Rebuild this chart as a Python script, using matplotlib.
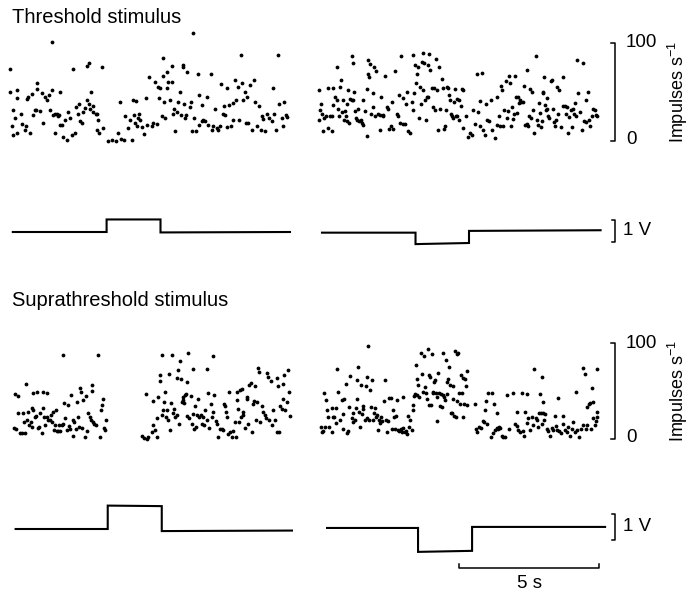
import matplotlib
matplotlib.use("Agg")
import matplotlib.pyplot as plt
from matplotlib import transforms

plt.rcParams['font.family'] = ['Liberation Sans', 'DejaVu Sans']
plt.rcParams['mathtext.fontset'] = 'custom'
plt.rcParams['mathtext.rm'] = 'Liberation Sans'
plt.rcParams['mathtext.it'] = 'Liberation Sans:italic'

# ---------------- data (time in s from sweep start, rate in impulses/s) -------------
# Threshold stimulus, left sweep (positive pulse)
thr_left_t = [0.0, 0.0, 0.26, 0.1, 0.18, 0.06, 0.12, 0.24, 0.24, 0.38, 0.42, 0.57, 0.6, 0.65, 0.54, 0.77, 0.83, 0.9, 0.73, 0.95, 0.98, 0.93,
              1.07, 1.13, 1.19, 1.25, 1.31, 1.4, 1.43, 1.51, 1.49, 1.55, 1.6, 1.67, 1.76, 1.79, 1.73, 1.6, 1.79, 1.85, 1.9, 1.96,
              2.02, 2.08, 2.14, 2.24, 2.2, 2.32, 2.36, 2.44, 2.48, 2.5, 2.56, 2.62, 2.68, 2.74, 2.83, 2.75, 2.83, 2.88, 2.86, 2.95, 2.98,
              3.07, 3.12, 3.15, 3.1, 3.19, 3.27, 3.33, 3.49, 3.79, 3.65, 3.87, 3.93, 3.95,
              4.07, 4.1, 4.23, 4.29, 4.35, 4.38, 4.43, 4.5, 4.46, 4.52, 4.58, 4.62, 4.64, 4.7, 4.79, 4.86, 4.88, 4.98, 5.06, 5.12,
              5.19, 5.24, 5.3, 5.33, 5.36, 5.42, 5.45, 5.46, 5.5, 5.55, 5.6, 5.61, 5.65, 5.71, 5.77, 5.77, 5.83, 5.86, 5.89, 5.95, 6.01,
              6.07, 6.1, 6.17, 6.19, 6.21, 6.25, 6.3, 6.33, 6.43, 6.46, 6.49, 6.55, 6.57, 6.64, 6.71, 6.76, 6.76, 6.85, 6.85, 6.9, 6.96, 7.02,
              7.08, 7.17, 7.2, 7.26, 7.32, 7.38, 7.44, 7.5, 7.54, 7.6, 7.64, 7.68, 7.74, 7.74, 7.83, 7.88, 7.95, 7.98, 8.04, 8.07,
              8.14, 8.17, 8.24, 8.27, 8.31, 8.39, 8.43, 8.48, 8.51, 8.57, 8.63, 8.71, 8.75, 8.83, 8.9, 8.95, 8.99,
              9.05, 9.12, 9.17, 9.26, 9.35, 9.38, 9.43, 9.5, 9.57, 9.62, 9.7, 9.76, 9.79, 9.86, 9.9]
thr_left_r = [73, 50, 52, 32, 23, 15, 6, 8, 44, 28, 17, 15, 43, 45, 11, 48, 27, 32, 8, 59, 53, 32,
              31, 49, 18, 45, 42, 47, 32, 101, 52, 27, 28, 28, 27, 50, 26, 8, 16, 16, 4, 21,
              1, 30, 23, 73, 6, 8, 35, 28, 38, 20, 18, 30, 34, 77, 80, 42, 38, 50, 33, 30, 36,
              28, 28, 21, 11, 8, 75, 13, 0, 0, 1, 8, 40, 2,
              1, 25, 13, 21, 1, 42, 27, 41, 18, 15, 23, 28, 21, 14, 7, 44, 16, 65, 15, 18,
              60, 17, 55, 44, 54, 25, 66, 85, 40, 23, 54, 70, 60, 42, 77, 60, 28, 33, 10, 30, 40,
              50, 27, 76, 78, 38, 23, 27, 70, 35, 40, 10, 110, 23, 10, 68, 47, 16, 37, 20, 21, 20, 45,
              16, 68, 11, 15, 33, 13, 11, 15, 58, 28, 36, 27, 54, 14, 37, 15, 39, 21, 62, 42,
              55, 21, 88, 59, 42, 50, 18, 45, 18, 57, 11, 62, 40, 15, 36, 11, 25,
              22, 10, 28, 23, 20, 54, 28, 11, 88, 38, 23, 15, 40, 27, 24]

# Threshold stimulus, right sweep (negative pulse)
thr_right_t = [0.15, 0.18, 0.2, 0.24, 0.15, 0.27, 0.32, 0.39, 0.48, 0.48, 0.54, 0.6, 0.61, 0.65, 0.65, 0.71, 0.77, 0.8, 0.83, 0.87, 0.89, 0.92, 0.95,
               1.01, 1.05, 1.07, 1.11, 1.13, 1.15, 1.19, 1.23, 1.25, 1.31, 1.33, 1.37, 1.37, 1.39, 1.43, 1.46, 1.51, 1.55, 1.58, 1.63, 1.67, 1.7, 1.73, 1.79, 1.85, 1.87, 1.88, 1.9, 1.94, 1.96, 1.99,
               2.06, 2.08, 2.11, 2.14, 2.18, 2.26, 2.32, 2.33, 2.35, 2.42, 2.44, 2.5, 2.56, 2.62, 2.65, 2.7, 2.75, 2.8, 2.86, 2.92, 2.96,
               3.01, 3.06, 3.04, 3.13, 3.15, 3.21, 3.25, 3.29, 3.33, 3.39, 3.45, 3.49, 3.51, 3.54, 3.57, 3.61, 3.63, 3.69, 3.73, 3.75, 3.79, 3.82, 3.85, 3.87, 3.9, 3.93, 3.96, 3.99,
               4.02, 4.06, 4.05, 4.12, 4.17, 4.23, 4.25, 4.29, 4.32, 4.37, 4.4, 4.44, 4.46, 4.52, 4.58, 4.61, 4.64, 4.68, 4.7, 4.76, 4.8, 4.82, 4.85, 4.88, 4.92, 4.96, 5.0,
               5.04, 5.06, 5.08, 5.13, 5.15, 5.2, 5.24, 5.27, 5.3, 5.39, 5.48, 5.54, 5.6, 5.65, 5.71, 5.77, 5.83, 5.89, 5.89, 5.95, 5.99,
               6.07, 6.11, 6.15, 6.23, 6.27, 6.31, 6.43, 6.49, 6.51, 6.58, 6.6, 6.64, 6.68, 6.73, 6.75, 6.82, 6.85, 6.9, 6.94, 6.96, 6.99,
               7.02, 7.08, 7.11, 7.14, 7.18, 7.2, 7.26, 7.3, 7.33, 7.37, 7.42, 7.46, 7.5, 7.56, 7.57, 7.62, 7.65, 7.68, 7.7, 7.74, 7.8, 7.83, 7.89, 7.92, 7.98,
               8.01, 8.04, 8.06, 8.1, 8.13, 8.15, 8.18, 8.21, 8.25, 8.27, 8.3, 8.33, 8.37, 8.42, 8.45, 8.49, 8.54, 8.57, 8.61, 8.65, 8.69, 8.73, 8.77, 8.85, 8.87, 8.93, 8.96, 8.99,
               9.05, 9.08, 9.13, 9.17, 9.2, 9.25, 9.29, 9.32, 9.36, 9.4, 9.46, 9.52, 9.56, 9.61, 9.68, 9.68, 9.74, 9.77, 9.82, 9.88, 9.94, 10.0, 10.04, 10.08]
thr_right_r = [52, 32, 38, 28, 21, 10, 23, 25, 54, 13, 26, 10, 26, 54, 37, 45, 76, 42, 33, 25, 55, 62, 30,
               42, 21, 31, 25, 38, 20, 52, 18, 43, 42, 87, 80, 42, 50, 31, 23, 21, 33, 20, 21, 18, 42, 16, 31, 5, 53, 68, 83, 65, 79, 28,
               35, 49, 75, 25, 71, 28, 11, 27, 45, 27, 26, 66, 35, 33, 12, 15, 40, 12, 71, 28, 25,
               47, 87, 18, 17, 44, 17, 38, 50, 10, 8, 40, 32, 88, 49, 78, 59, 68, 76, 23, 55, 38, 81, 90, 52, 80, 42, 21, 45,
               45, 89, 78, 72, 54, 35, 54, 32, 84, 52, 11, 75, 33, 63, 54, 12, 15, 32, 55, 54, 47, 42, 28, 26, 23, 40, 53,
               25, 25, 43, 21, 42, 36, 53, 13, 52, 26, 4, 8, 6, 32, 17, 68, 30, 41, 15, 69, 11,
               6, 38, 21, 20, 42, 11, 3, 16, 45, 25, 15, 56, 52, 15, 32, 61, 23, 31, 66, 59, 15,
               35, 22, 28, 66, 45, 29, 45, 39, 42, 40, 40, 56, 16, 72, 17, 15, 26, 53, 23, 50, 32, 8, 87, 21, 16,
               39, 29, 14, 20, 50, 49, 65, 37, 32, 33, 44, 26, 23, 61, 62, 33, 19, 15, 21, 55, 28, 52, 14, 65, 36, 36, 28, 35,
               8, 24, 32, 14, 33, 28, 39, 26, 83, 49, 30, 11, 80, 20, 42, 19, 50, 21, 15, 25, 33, 32, 27, 26]

# Suprathreshold stimulus, left sweep (positive pulse)
sup_left_t = [0.14, 0.18, 0.21, 0.3, 0.3, 0.36, 0.42, 0.48, 0.5, 0.54, 0.57, 0.6, 0.65, 0.69, 0.74, 0.77, 0.77, 0.83, 0.83, 0.89, 0.93, 0.98,
              1.01, 1.05, 1.07, 1.13, 1.17, 1.19, 1.21, 1.25, 1.31, 1.33, 1.37, 1.43, 1.45, 1.49, 1.55, 1.57, 1.61, 1.64, 1.67, 1.73, 1.75, 1.79, 1.85, 1.88, 1.9, 1.93, 1.96,
              2.02, 2.08, 2.12, 2.14, 2.17, 2.24, 2.26, 2.29, 2.36, 2.4, 2.44, 2.48, 2.5, 2.52, 2.56, 2.62, 2.68, 2.71, 2.76, 2.8, 2.86, 2.88, 2.92, 2.92, 2.95, 3.0,
              3.07, 3.13, 3.21, 3.24, 3.27, 3.31, 3.36, 3.39, 3.43,
              4.7, 4.79, 4.88, 4.86, 4.94, 5.06, 5.1, 5.12, 5.18, 5.24, 5.26, 5.3, 5.36, 5.36, 5.42, 5.44, 5.48, 5.5, 5.54, 5.57, 5.6, 5.63, 5.69, 5.71, 5.74, 5.77, 5.81, 5.86, 5.89, 5.95, 5.98,
              6.01, 6.05, 6.07, 6.1, 6.13, 6.17, 6.19, 6.21, 6.25, 6.29, 6.31, 6.33, 6.37, 6.4, 6.45, 6.49, 6.52, 6.55, 6.57, 6.61, 6.64, 6.67, 6.73, 6.76, 6.81, 6.85, 6.88, 6.93, 6.96,
              7.02, 7.05, 7.08, 7.12, 7.17, 7.2, 7.24, 7.26, 7.3, 7.36, 7.4, 7.44, 7.5, 7.56, 7.6, 7.64, 7.68, 7.71, 7.74, 7.8, 7.83, 7.86, 7.92, 7.98,
              8.04, 8.07, 8.1, 8.12, 8.15, 8.19, 8.21, 8.24, 8.27, 8.31, 8.33, 8.39, 8.45, 8.48, 8.51, 8.55, 8.6, 8.63, 8.67, 8.71, 8.75, 8.79, 8.81, 8.87, 8.9, 8.93, 8.99,
              9.05, 9.1, 9.14, 9.17, 9.23, 9.26, 9.31, 9.35, 9.4, 9.46, 9.52, 9.55, 9.58, 9.62, 9.64, 9.7, 9.74, 9.76, 9.79, 9.82, 9.88, 9.94, 9.98, 10.0]
sup_left_r = [11, 47, 10, 27, 45, 6, 6, 27, 18, 6, 57, 20, 28, 15, 18, 32, 13, 48, 30, 23, 24, 49,
              11, 12, 27, 6, 49, 32, 23, 15, 23, 48, 20, 20, 25, 18, 28, 9, 15, 30, 8, 8, 15, 8, 15, 87, 16, 38, 22,
              9, 35, 14, 10, 46, 3, 20, 18, 10, 39, 23, 13, 53, 49, 11, 41, 2, 45, 8, 27, 23, 20, 56, 50, 18, 16,
              15, 88, 2, 30, 35, 42, 11, 9, 20,
              3, 1, 0, 47, 2, 7, 40, 15, 9, 2, 22, 44, 60, 67, 88, 25, 30, 39, 49, 23, 30, 20, 68, 9, 37, 88, 27, 31, 23, 25, 64,
              72, 16, 81, 62, 39, 41, 44, 38, 46, 47, 24, 59, 90, 22, 45, 16, 26, 73, 10, 34, 12, 25, 42, 23, 25, 16, 23, 15, 30,
              73, 20, 48, 11, 36, 23, 86, 28, 46, 19, 16, 2, 10, 10, 9, 36, 34, 28, 23, 5, 49, 7, 2, 8,
              18, 2, 49, 41, 31, 18, 51, 23, 52, 25, 28, 11, 42, 44, 16, 56, 58, 7, 36, 40, 55, 20, 39, 74, 70, 18, 34,
              28, 25, 22, 69, 65, 20, 60, 15, 30, 20, 7, 64, 55, 7, 34, 31, 57, 42, 67, 30, 39, 72, 49, 24]

# Suprathreshold stimulus, right sweep (negative pulse)
sup_right_t = [0.2, 0.24, 0.3, 0.32, 0.36, 0.39, 0.42, 0.48, 0.51, 0.6, 0.62, 0.65, 0.69, 0.75, 0.75, 0.8, 0.83, 0.89, 0.95, 0.99,
               1.01, 1.04, 1.12, 1.13, 1.19, 1.23, 1.25, 1.31, 1.35, 1.37, 1.43, 1.46, 1.49, 1.51, 1.55, 1.58, 1.61, 1.64, 1.67, 1.7, 1.73, 1.79, 1.82, 1.85, 1.87, 1.9, 1.94, 1.96, 1.99,
               2.02, 2.06, 2.1, 2.14, 2.18, 2.23, 2.26, 2.3, 2.32, 2.36, 2.4, 2.46, 2.5, 2.54, 2.58, 2.62, 2.65, 2.7, 2.74, 2.77, 2.82, 2.86, 2.89, 2.94, 2.98,
               3.01, 3.06, 3.1, 3.13, 3.15, 3.21, 3.25, 3.3, 3.33, 3.37, 3.39, 3.45, 3.49, 3.51, 3.54, 3.57, 3.61, 3.63, 3.65, 3.69, 3.73, 3.77, 3.81, 3.85, 3.89, 3.93, 3.96, 3.99,
               4.02, 4.06, 4.08, 4.11, 4.13, 4.17, 4.2, 4.23, 4.26, 4.29, 4.32, 4.35, 4.37, 4.4, 4.44, 4.46, 4.49, 4.52, 4.56, 4.58, 4.61, 4.64, 4.68, 4.7, 4.73, 4.76, 4.8, 4.82, 4.85, 4.88, 4.92, 4.94, 4.96,
               5.0, 5.04, 5.06, 5.08, 5.12, 5.15, 5.18, 5.2, 5.24, 5.27, 5.3, 5.32, 5.36, 5.39, 5.42, 5.44,
               5.71, 5.75, 5.8, 5.87, 5.92, 5.99,
               6.04, 6.07, 6.11, 6.15, 6.19, 6.27, 6.31, 6.35, 6.39, 6.43, 6.49, 6.51, 6.55, 6.58, 6.61, 6.67, 6.73, 6.79, 6.85, 6.94,
               7.06, 7.14, 7.2, 7.23, 7.26, 7.32, 7.38, 7.42, 7.46, 7.5, 7.56, 7.58, 7.62, 7.68, 7.74, 7.77, 7.82, 7.89, 7.94, 7.98,
               8.01, 8.04, 8.06, 8.1, 8.1, 8.13, 8.15, 8.18, 8.21, 8.27, 8.33, 8.39, 8.45, 8.51, 8.57, 8.61, 8.65, 8.69, 8.73, 8.77, 8.85, 8.87, 8.93, 8.99,
               9.05, 9.1, 9.17, 9.23, 9.29, 9.32, 9.37, 9.44, 9.49, 9.56, 9.58, 9.64, 9.68, 9.7, 9.73, 9.8, 9.82, 9.85, 9.88, 9.92, 9.94, 10.0, 10.04, 10.06, 10.08, 10.08]
sup_right_r = [12, 7, 8, 48, 13, 41, 30, 23, 13, 7, 32, 23, 23, 32, 17, 73, 49, 20, 41, 10,
               26, 42, 57, 6, 8, 33, 66, 22, 27, 18, 20, 32, 42, 61, 75, 28, 12, 56, 26, 31, 34, 20, 55, 65, 22, 97, 20, 51, 33,
               61, 20, 27, 32, 23, 25, 9, 20, 17, 23, 19, 40, 61, 20, 7, 19, 43, 43, 10, 30, 23, 10, 24, 41, 9,
               8, 10, 7, 44, 11, 7, 8, 5, 24, 12, 20, 9, 35, 30, 45, 47, 77, 62, 46, 56, 44, 90, 68, 49, 86, 54, 48, 42,
               94, 35, 67, 65, 35, 89, 48, 49, 59, 61, 48, 19, 44, 69, 48, 34, 47, 33, 90, 46, 44, 41, 82, 59, 47, 62, 75, 56, 27, 27, 42, 55, 24,
               92, 23, 40, 89, 90, 48, 36, 67, 48, 23, 64, 36, 63, 55, 71, 35,
               36, 10, 7, 12, 11, 19,
               18, 30, 40, 16, 48, 2, 48, 6, 36, 9, 11, 27, 10, 12, 11, 3, 2, 2, 46, 10,
               48, 16, 28, 14, 9, 7, 48, 8, 3, 28, 47, 17, 22, 9, 23, 15, 73, 22, 20, 13,
               27, 47, 27, 65, 16, 39, 27, 20, 26, 10, 8, 3, 11, 9, 24, 14, 9, 43, 8, 6, 24, 16, 9, 7,
               12, 3, 10, 18, 7, 49, 9, 2, 10, 74, 15, 68, 10, 33, 15, 36, 38, 10, 53, 39, 22, 15, 19, 28, 23, 73]

# Stimulus traces (time s, volts)
thr_left_stim_t = [0.1, 3.45, 3.45, 5.375, 5.375, 10.0]
thr_left_stim_v = [0.0, 0.0, 0.57, 0.57, -0.02, 0.0]
thr_right_stim_t = [0.25, 3.59, 3.59, 5.5, 5.5, 10.2]
thr_right_stim_v = [-0.03, -0.03, -0.55, -0.5, 0.05, 0.08]
sup_left_stim_t = [0.2, 3.49, 3.49, 5.42, 5.42, 10.07]
sup_left_stim_v = [0.0, 0.0, 0.9, 0.88, -0.08, -0.06]
sup_right_stim_t = [0.43, 3.68, 3.68, 5.61, 5.61, 10.36]
sup_right_stim_v = [0.04, 0.04, -0.88, -0.84, 0.08, 0.08]

titles = ["Threshold stimulus", "Suprathreshold stimulus"]
rate_ticks = [0, 100]
volt_bar = 1.0
time_bar = 5.0

# ---------------- layout (pixels of a 690 x 595 canvas) ----------------
W, H = 690, 595
fig = plt.figure(figsize=(W / 100, H / 100), dpi=100)
fig.patch.set_facecolor('white')

PX_PER_S = 28.0
SWEEP_X0 = [10, 315]          # pixel x of t = 0 for left / right sweep


def make_axes(x0_px, y0_px, y_px_per_unit):
    ax = fig.add_axes([0, 0, 1, 1])
    ax.set_xlim(-x0_px / PX_PER_S, (W - x0_px) / PX_PER_S)
    ax.set_ylim((y0_px - H) / y_px_per_unit, y0_px / y_px_per_unit)
    ax.axis('off')
    ax.patch.set_alpha(0)
    return ax


def fx(px):
    return px / W


def fy(py):
    return 1 - py / H


rows = [
    dict(title=titles[0], title_y=23, rate0=141, rate_scale=0.98, stim0=232, stim_scale=22.0,
         rates=[(thr_left_t, thr_left_r), (thr_right_t, thr_right_r)],
         stims=[(thr_left_stim_t, thr_left_stim_v), (thr_right_stim_t, thr_right_stim_v)],
         vbar=(-0.45, 0.55)),
    dict(title=titles[1], title_y=306, rate0=439, rate_scale=0.96, stim0=529, stim_scale=26.0,
         rates=[(sup_left_t, sup_left_r), (sup_right_t, sup_right_r)],
         stims=[(sup_left_stim_t, sup_left_stim_v), (sup_right_stim_t, sup_right_stim_v)],
         vbar=(-0.42, 0.58)),
]

LW_TRACE = 1.5
LW_BAR = 1.1
FS = 13.5

for row in rows:
    rate_axes = []
    stim_axes = []
    for k in range(2):
        ra = make_axes(SWEEP_X0[k], row['rate0'], row['rate_scale'])
        t, r = row['rates'][k]
        ra.scatter(t, r, s=7.5, c='black', linewidths=0, clip_on=False)
        rate_axes.append(ra)
        sa = make_axes(SWEEP_X0[k], row['stim0'], row['stim_scale'])
        st, sv = row['stims'][k]
        sa.plot(st, sv, color='black', lw=LW_TRACE, solid_joinstyle='miter', clip_on=False)
        stim_axes.append(sa)

    # rate calibration bracket
    ra = rate_axes[1]
    tr = transforms.blended_transform_factory(fig.transFigure, ra.transData)
    ra.plot([fx(611), fx(615), fx(615), fx(611)],
            [rate_ticks[1], rate_ticks[1], rate_ticks[0], rate_ticks[0]],
            color='black', lw=LW_BAR, transform=tr, clip_on=False)
    ra.text(fx(626), rate_ticks[1], str(rate_ticks[1]), transform=tr, ha='left', va='center', fontsize=FS)
    ra.text(fx(626), rate_ticks[0] + 2, str(rate_ticks[0]), transform=tr, ha='left', va='center', fontsize=FS)
    ra.text(fx(678), (rate_ticks[0] + rate_ticks[1]) / 2, 'Impulses s$^{-1}$', transform=tr,
            ha='center', va='center', rotation=90, fontsize=13)

    # volt calibration bracket
    sa = stim_axes[1]
    tr = transforms.blended_transform_factory(fig.transFigure, sa.transData)
    lo, hi = row['vbar']
    sa.plot([fx(612), fx(615), fx(615), fx(612)], [hi, hi, lo, lo],
            color='black', lw=LW_BAR, transform=tr, clip_on=False)
    sa.text(fx(623), (lo + hi) / 2, f'{volt_bar:g} V', transform=tr, ha='left', va='center', fontsize=FS)

    fig.text(fx(12), fy(row['title_y']), row['title'], ha='left', va='baseline', fontsize=14.5)

# time calibration bar on the last sweep
sa = stim_axes[1]
tr = transforms.blended_transform_factory(sa.transData, fig.transFigure)
t_start = 5.15
sa.plot([t_start, t_start, t_start + time_bar, t_start + time_bar],
        [fy(564), fy(568), fy(568), fy(564)], color='black', lw=LW_BAR, transform=tr, clip_on=False)
sa.text(t_start + time_bar / 2, fy(583), f'{time_bar:g} s', transform=tr, ha='center', va='center', fontsize=FS)

fig.savefig('out.png', dpi=100, facecolor='white')
